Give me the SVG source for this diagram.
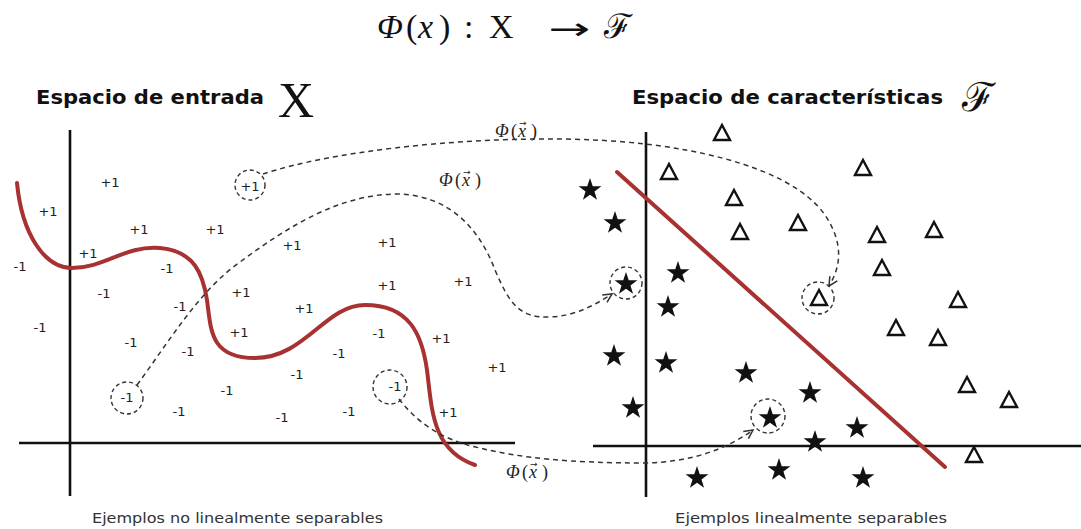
<svg xmlns="http://www.w3.org/2000/svg" width="1081" height="529" viewBox="0 0 1081 529">
<style>
.bg{fill:#fff}
.axis{stroke:#111;stroke-width:2.6;fill:none}
.sep{stroke:#a83232;stroke-width:4;fill:none;stroke-linecap:round}
.dash{stroke:#333;stroke-width:1.5;fill:none;stroke-dasharray:5 4}
.ring{stroke:#333;stroke-width:1.4;fill:none;stroke-dasharray:4 3}
.lab{font-family:'DejaVu Sans','Liberation Sans',sans-serif;font-size:13px;fill:#222;text-anchor:middle;dominant-baseline:central}
.head{font-family:'DejaVu Sans','Liberation Sans',sans-serif;font-weight:bold;font-size:19px;fill:#111}
.cap{font-family:'DejaVu Sans','Liberation Sans',sans-serif;font-size:14px;fill:#333}
.math{font-family:'Liberation Serif','DejaVu Serif',serif;fill:#111}
.phi{font-family:'Liberation Serif','DejaVu Serif',serif;font-size:18px;fill:#222}
.vec{font-family:'DejaVu Sans',sans-serif;font-size:9px}
.tri{fill:none;stroke:#111;stroke-width:2.4;stroke-linejoin:miter}
.star{fill:#111}
</style>
<defs>
<path id="star" d="M0,-12 L2.763,-3.802 L11.413,-3.708 L4.47,1.452 L7.053,9.708 L0,4.7 L-7.053,9.708 L-4.47,1.452 L-11.413,-3.708 L-2.763,-3.802 Z"/>
<path id="tri" d="M0,-8 L8,7 L-8,7 Z"/>
<marker id="ah" viewBox="0 0 10 10" refX="9" refY="5" markerWidth="11" markerHeight="11" markerUnits="userSpaceOnUse" orient="auto">
<path d="M1,1 L9,5 L1,9" fill="none" stroke="#333" stroke-width="1.4"/>
</marker>
</defs>
<rect class="bg" x="0" y="0" width="1081" height="529"/>

<g id="title" class="math" font-size="34">
<text y="38"><tspan x="377" font-style="italic">Φ</tspan><tspan x="406">(</tspan><tspan x="418" font-style="italic">x</tspan><tspan x="439">)</tspan><tspan x="464">:</tspan><tspan x="489">X</tspan></text>
<text x="548" y="39" font-family="'DejaVu Sans',sans-serif" font-size="30" textLength="42" lengthAdjust="spacingAndGlyphs">→</text>
<text x="604" y="38">ℱ</text>
</g>

<g id="heading-left">
<text class="head" x="36" y="104" textLength="228" lengthAdjust="spacingAndGlyphs">Espacio de entrada</text>
<text class="math" x="278" y="117" font-size="50">X</text>
</g>
<g id="heading-right">
<text class="head" x="632" y="104" textLength="311" lengthAdjust="spacingAndGlyphs">Espacio de características</text>
<text class="math" x="962" y="111" font-size="40">ℱ</text>
</g>

<g id="axes-left">
<line class="axis" x1="70" y1="130" x2="70" y2="496"/>
<line class="axis" x1="19" y1="443" x2="515" y2="443"/>
</g>
<g id="axes-right">
<line class="axis" x1="646" y1="132" x2="646" y2="497"/>
<line class="axis" x1="593" y1="446" x2="1081" y2="446"/>
</g>

<g id="boundary-left">
<path class="sep" d="M17,183 C22,235 45,268 72,268 C105,268 125,245 160,248 C195,251 203,275 207,300 C211,330 210,358 255,358 C305,358 325,305 365,305 C410,305 422,335 427,370 C432,410 432,450 475,465"/>
</g>
<g id="boundary-right">
<line class="sep" x1="617" y1="172" x2="945" y2="467"/>
</g>

<g id="points-left">
<g id="pl1"><text class="lab" x="110" y="182">+1</text></g>
<g id="pl2"><text class="lab" x="48" y="211">+1</text></g>
<g id="pl3"><text class="lab" x="139" y="229">+1</text></g>
<g id="pl4"><text class="lab" x="215" y="229">+1</text></g>
<g id="pl5"><text class="lab" x="88" y="253">+1</text></g>
<g id="pl6"><text class="lab" x="292" y="245">+1</text></g>
<g id="pl7"><text class="lab" x="387" y="242">+1</text></g>
<g id="pl8"><text class="lab" x="20" y="266">-1</text></g>
<g id="pl9"><text class="lab" x="167" y="268">-1</text></g>
<g id="pl10"><text class="lab" x="104" y="293">-1</text></g>
<g id="pl11"><text class="lab" x="241" y="292">+1</text></g>
<g id="pl12"><text class="lab" x="387" y="285">+1</text></g>
<g id="pl13"><text class="lab" x="463" y="281">+1</text></g>
<g id="pl14"><text class="lab" x="180" y="306">-1</text></g>
<g id="pl15"><text class="lab" x="304" y="308">+1</text></g>
<g id="pl16"><text class="lab" x="40" y="327">-1</text></g>
<g id="pl17"><text class="lab" x="239" y="332">+1</text></g>
<g id="pl18"><text class="lab" x="379" y="333">-1</text></g>
<g id="pl19"><text class="lab" x="441" y="338">+1</text></g>
<g id="pl20"><text class="lab" x="131" y="342">-1</text></g>
<g id="pl21"><text class="lab" x="188" y="351">-1</text></g>
<g id="pl22"><text class="lab" x="339" y="353">-1</text></g>
<g id="pl23"><text class="lab" x="297" y="374">-1</text></g>
<g id="pl24"><text class="lab" x="497" y="367">+1</text></g>
<g id="pl25"><text class="lab" x="227" y="390">-1</text></g>
<g id="pl26"><text class="lab" x="179" y="411">-1</text></g>
<g id="pl27"><text class="lab" x="282" y="417">-1</text></g>
<g id="pl28"><text class="lab" x="349" y="411">-1</text></g>
<g id="pl29"><text class="lab" x="448" y="412">+1</text></g>
<g id="src-a"><text class="lab" x="250" y="186">+1</text><circle class="ring" cx="250" cy="185" r="15"/></g>
<g id="src-b"><text class="lab" x="127" y="397">-1</text><circle class="ring" cx="127" cy="398" r="16"/></g>
<g id="src-c"><text class="lab" x="395" y="386">-1</text><circle class="ring" cx="390" cy="387" r="17"/></g>
</g>

<g id="points-right">
<use class="star" href="#star" x="590" y="190"/>
<use class="star" href="#star" x="615" y="223"/>
<use class="star" href="#star" x="678" y="273"/>
<use class="star" href="#star" x="668" y="307"/>
<use class="star" href="#star" x="614" y="356"/>
<use class="star" href="#star" x="666" y="363"/>
<use class="star" href="#star" x="633" y="408"/>
<use class="star" href="#star" x="746" y="373"/>
<use class="star" href="#star" x="810" y="393"/>
<use class="star" href="#star" x="815" y="442"/>
<use class="star" href="#star" x="857" y="428"/>
<use class="star" href="#star" x="697" y="478"/>
<use class="star" href="#star" x="779" y="470"/>
<use class="star" href="#star" x="863" y="478"/>
<use class="tri" href="#tri" x="722" y="133"/>
<use class="tri" href="#tri" x="669" y="172"/>
<use class="tri" href="#tri" x="863" y="168"/>
<use class="tri" href="#tri" x="734" y="198"/>
<use class="tri" href="#tri" x="740" y="232"/>
<use class="tri" href="#tri" x="798" y="223"/>
<use class="tri" href="#tri" x="877" y="235"/>
<use class="tri" href="#tri" x="934" y="230"/>
<use class="tri" href="#tri" x="882" y="268"/>
<use class="tri" href="#tri" x="958" y="300"/>
<use class="tri" href="#tri" x="896" y="328"/>
<use class="tri" href="#tri" x="938" y="338"/>
<use class="tri" href="#tri" x="967" y="385"/>
<use class="tri" href="#tri" x="1009" y="400"/>
<use class="tri" href="#tri" x="974" y="455"/>
<g id="dst-a"><use class="tri" href="#tri" x="819" y="298"/><circle class="ring" cx="818" cy="298" r="16"/></g>
<g id="dst-b"><use class="star" href="#star" x="626" y="284"/><circle class="ring" cx="626" cy="283" r="16"/></g>
<g id="dst-c"><use class="star" href="#star" x="770" y="418"/><circle class="ring" cx="768" cy="416" r="17"/></g>
</g>

<g id="connectors">
<path class="dash" marker-end="url(#ah)" d="M263,174 C330,152 450,138 560,139 C680,140 790,165 825,215 C845,245 840,268 829,286"/>
<path class="dash" marker-end="url(#ah)" d="M137,385 C170,340 200,290 240,262 C290,225 340,195 395,194 C450,194 480,230 495,270 C510,305 520,318 550,317 C575,316 595,305 612,294"/>
<path class="dash" marker-end="url(#ah)" d="M399,399 C415,420 440,440 480,448 C520,458 570,463 646,463 C690,462 725,450 753,430"/>
<text class="phi" y="137"><tspan x="495" font-style="italic">Φ</tspan><tspan x="511">(</tspan><tspan x="518" font-style="italic">x</tspan><tspan class="vec" x="519" y="126">→</tspan><tspan x="531" y="137">)</tspan></text>
<text class="phi" y="186"><tspan x="439" font-style="italic">Φ</tspan><tspan x="455">(</tspan><tspan x="462" font-style="italic">x</tspan><tspan class="vec" x="463" y="175">→</tspan><tspan x="475" y="186">)</tspan></text>
<text class="phi" y="478"><tspan x="506" font-style="italic">Φ</tspan><tspan x="522">(</tspan><tspan x="529" font-style="italic">x</tspan><tspan class="vec" x="530" y="467">→</tspan><tspan x="542" y="478">)</tspan></text>
</g>

<g id="captions">
<text class="cap" x="92" y="523" textLength="291" lengthAdjust="spacingAndGlyphs">Ejemplos no linealmente separables</text>
<text class="cap" x="675" y="523" textLength="272" lengthAdjust="spacingAndGlyphs">Ejemplos linealmente separables</text>
</g>
</svg>
